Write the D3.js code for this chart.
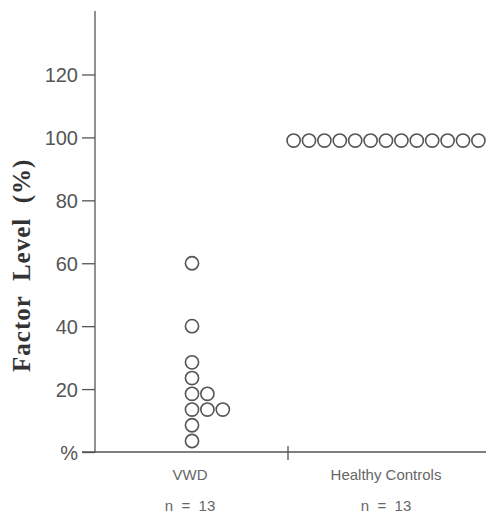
<!DOCTYPE html>
<html>
<head>
<meta charset="utf-8">
<script src="https://cdn.jsdelivr.net/npm/d3@7"></script>
<style>
  body { margin: 0; background: #fff; }
  svg { display: block; }
</style>
</head>
<body>
<div id="chart"></div>
<script>
// groups and their n labels
const groups = ["VWD", "Healthy Controls"];
const groupN = ["n  =  13", "n  =  13"];

// VWD values (%) and the column each dot is stacked in
const vwdValues = [60, 40, 28.5, 23.5, 18.5, 18.5, 13.5, 13.5, 13.5, 8.5, 3.5];
const vwdColumn = [0, 0, 0, 0, 0, 1, 0, 1, 2, 0, 0];

// healthy controls, 13 dots at ~100%
const controlValues = [99, 99, 99, 99, 99, 99, 99, 99, 99, 99, 99, 99, 99];

const yTicks = [0, 20, 40, 60, 80, 100, 120];
const yTickLabels = ["%", "20", "40", "60", "80", "100", "120"];

const width = 486, height = 513;
const ink = "#555";

const svg = d3.select("#chart")
  .append("svg")
  .attr("width", width)
  .attr("height", height);

const x = d3.scaleBand()
  .domain(groups)
  .range([92, 484])
  .padding(0);

const y = d3.scaleLinear()
  .domain([0, 120])
  .range([452, 74.5]);

const dotR = 6.6;
const step = 15.4;

// y axis
svg.append("line")
  .attr("x1", 95).attr("x2", 95)
  .attr("y1", 11).attr("y2", y(0))
  .attr("stroke", ink).attr("stroke-width", 1.3);

const yAxis = svg.append("g")
  .attr("transform", "translate(95,0)")
  .call(d3.axisLeft(y).tickValues(yTicks).tickSize(13).tickPadding(4)
    .tickFormat((d, i) => yTickLabels[i]));
yAxis.select(".domain").remove();
yAxis.selectAll("line").attr("stroke", ink).attr("stroke-width", 1.3);
yAxis.selectAll("text")
  .attr("fill", ink)
  .style("font-family", "'Liberation Sans', Arial, sans-serif")
  .style("font-size", "20px")
  .attr("dy", "0.35em");

// x axis
svg.append("line")
  .attr("x1", 82).attr("x2", width)
  .attr("y1", y(0)).attr("y2", y(0))
  .attr("stroke", ink).attr("stroke-width", 1.3);

svg.append("line")
  .attr("x1", x("Healthy Controls")).attr("x2", x("Healthy Controls"))
  .attr("y1", y(0) - 6).attr("y2", y(0) + 8)
  .attr("stroke", ink).attr("stroke-width", 1.3);

svg.selectAll(".glabel")
  .data(groups)
  .join("text")
  .attr("class", "glabel")
  .attr("x", d => x(d) + x.bandwidth() / 2)
  .attr("y", 480)
  .attr("text-anchor", "middle")
  .attr("fill", "#666")
  .style("font-family", "'Liberation Sans', Arial, sans-serif")
  .style("font-size", "15px")
  .text(d => d);

svg.selectAll(".nlabel")
  .data(groupN)
  .join("text")
  .attr("class", "nlabel")
  .attr("x", (d, i) => x(groups[i]) + x.bandwidth() / 2)
  .attr("y", 511)
  .attr("text-anchor", "middle")
  .attr("fill", "#666")
  .style("font-family", "'Liberation Sans', Arial, sans-serif")
  .style("font-size", "15px")
  .style("white-space", "pre")
  .text(d => d);

// y title
svg.append("text")
  .attr("transform", `translate(30, ${y(60) + 2}) rotate(-90)`)
  .attr("text-anchor", "middle")
  .attr("fill", "#333")
  .style("font-family", "'Liberation Serif', 'Times New Roman', serif")
  .style("font-weight", "bold")
  .style("font-size", "25px")
  .style("letter-spacing", "1px")
  .style("white-space", "pre")
  .text("Factor  Level  (%)");

// dots
const vwdCenter = x("VWD") + x.bandwidth() / 2 + 2;
svg.selectAll(".vwd")
  .data(vwdValues)
  .join("circle")
  .attr("class", "vwd")
  .attr("cx", (d, i) => vwdCenter + vwdColumn[i] * step)
  .attr("cy", d => y(d))
  .attr("r", dotR)
  .attr("fill", "none")
  .attr("stroke", ink)
  .attr("stroke-width", 1.6);

const hcCenter = x("Healthy Controls") + x.bandwidth() / 2;
svg.selectAll(".hc")
  .data(controlValues)
  .join("circle")
  .attr("class", "hc")
  .attr("cx", (d, i) => hcCenter + (i - (controlValues.length - 1) / 2) * step)
  .attr("cy", d => y(d))
  .attr("r", dotR)
  .attr("fill", "none")
  .attr("stroke", ink)
  .attr("stroke-width", 1.6);
</script>
</body>
</html>
